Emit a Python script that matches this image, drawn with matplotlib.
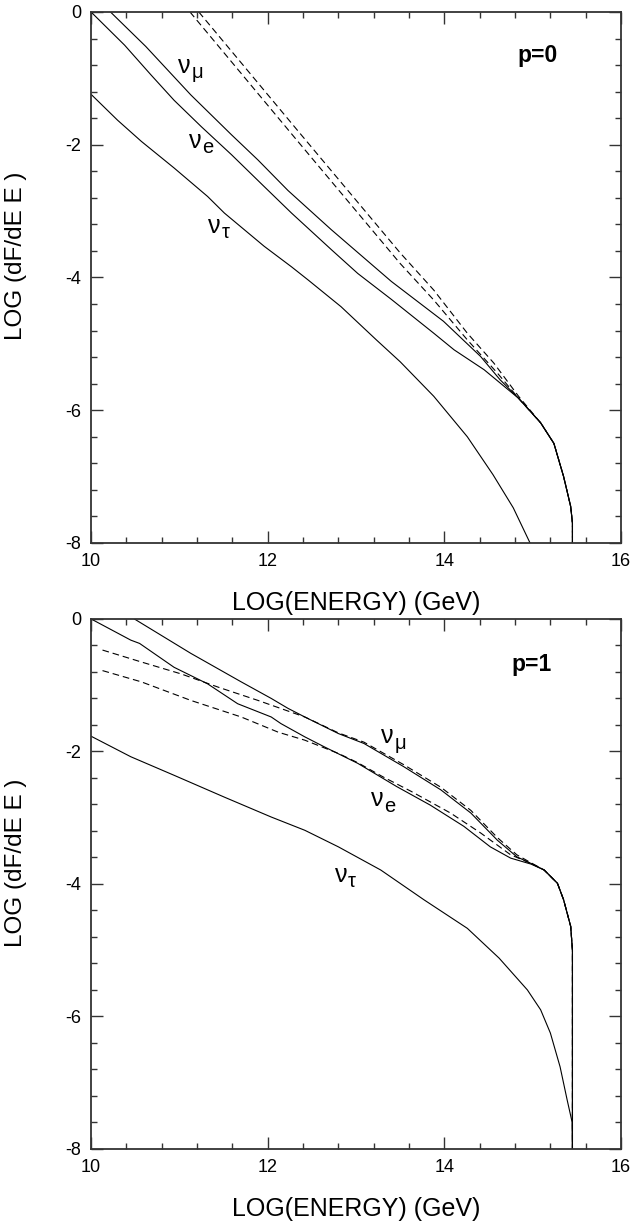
import matplotlib
matplotlib.use("Agg")
import matplotlib.pyplot as plt
from matplotlib.ticker import MultipleLocator

plt.rcParams['font.family'] = ['Liberation Sans', 'DejaVu Sans']
plt.rcParams['axes.unicode_minus'] = False

# ---- p = 0 ----
tail0_x = [15.09, 15.24, 15.35, 15.43, 15.45, 15.45]
tail0_y = [-6.19, -6.50, -7.00, -7.45, -7.70, -8.00]

p0_mu_x = [10.22, 10.62, 11.13, 11.59, 11.89, 12.23, 12.72, 13.40, 13.99, 14.41, 14.63, 14.84]
p0_mu_y = [0.00, -0.52, -1.25, -1.85, -2.23, -2.69, -3.28, -4.06, -4.66, -5.19, -5.54, -5.82]

p0_e_x = [10.00, 10.38, 10.68, 10.94, 11.25, 11.59, 11.96, 12.27, 12.72, 13.02, 13.40,
          13.88, 14.11, 14.45, 14.84]
p0_e_y = [0.00, -0.50, -0.95, -1.33, -1.73, -2.15, -2.63, -3.03, -3.58, -3.94, -4.33,
          -4.84, -5.09, -5.39, -5.82]

p0_tau_x = [10.00, 10.30, 10.57, 10.94, 11.32, 11.51, 11.96, 12.27, 12.46, 12.83, 13.23, 13.50,
            13.88, 14.26, 14.55, 14.78, 14.97]
p0_tau_y = [-1.24, -1.63, -1.95, -2.35, -2.78, -3.03, -3.53, -3.84, -4.04, -4.44, -4.94, -5.27,
            -5.79, -6.40, -6.97, -7.47, -8.00]

p0_d1_x = [11.22, 12.36, 13.50, 13.88, 14.26, 14.56, 14.84]
p0_d1_y = [0.00, -1.82, -3.63, -4.19, -4.84, -5.29, -5.79]
p0_d2_x = [11.12, 12.31, 13.50, 13.88, 14.26, 14.60, 14.84]
p0_d2_y = [0.00, -1.90, -3.79, -4.34, -4.94, -5.44, -5.82]

# ---- p = 1 ----
tail1_x = [15.13, 15.28, 15.35, 15.43, 15.45, 15.45]
tail1_y = [-3.79, -3.99, -4.24, -4.64, -5.00, -8.00]

p1_mu_x = [10.49, 11.13, 11.70, 12.04, 12.23, 12.42, 12.80, 13.09, 13.54, 13.96, 14.30, 14.60,
           14.82, 14.98]
p1_mu_y = [0.00, -0.52, -0.95, -1.20, -1.35, -1.48, -1.73, -1.88, -2.23, -2.58, -2.93, -3.34,
           -3.59, -3.69]

p1_e_x = [10.00, 10.45, 10.55, 10.94, 11.32, 11.66, 12.04, 12.15, 12.42, 12.64, 13.02, 13.46,
          13.84, 14.22, 14.52, 14.75, 14.98]
p1_e_y = [0.00, -0.32, -0.37, -0.73, -0.98, -1.28, -1.48, -1.58, -1.78, -1.93, -2.18, -2.53,
          -2.81, -3.13, -3.44, -3.61, -3.70]

p1_tau_x = [10.00, 10.45, 10.94, 11.51, 12.04, 12.42, 12.80, 13.28, 13.77, 14.26, 14.62,
            14.94, 15.09, 15.20, 15.31, 15.39, 15.447, 15.45]
p1_tau_y = [-1.77, -2.08, -2.36, -2.69, -2.99, -3.19, -3.44, -3.79, -4.24, -4.67, -5.12,
            -5.60, -5.90, -6.25, -6.76, -7.26, -7.60, -8.00]

p1_d1_x = [10.13, 10.57, 11.02, 11.44, 11.89, 12.42, 12.80, 13.09, 13.54, 13.96, 14.30, 14.60,
           14.82, 14.98]
p1_d1_y = [-0.47, -0.65, -0.83, -1.03, -1.23, -1.48, -1.72, -1.86, -2.20, -2.54, -2.89, -3.30,
           -3.56, -3.68]
p1_d2_x = [10.13, 10.57, 11.13, 11.70, 12.12, 12.42, 12.80, 13.02, 13.30, 13.62, 14.07, 14.41,
           14.75, 14.98]
p1_d2_y = [-0.78, -0.95, -1.23, -1.48, -1.71, -1.83, -2.03, -2.17, -2.38, -2.60, -2.93, -3.23,
           -3.56, -3.69]

# flavour labels: (subscript, x, y) at the foot of the nu
p0_labels = [('μ', 11.13, -0.92), ('e', 11.25, -2.05), ('τ', 11.47, -3.33)]
p1_labels = [('μ', 13.43, -1.88), ('e', 13.31, -2.83), ('τ', 12.90, -3.97)]

fig = plt.figure(figsize=(6.33, 12.21), dpi=100)
ax0 = fig.add_axes([0.1438, 0.5553, 0.8373, 0.4349])
ax1 = fig.add_axes([0.1438, 0.0590, 0.8373, 0.4341])

solid = dict(color='black', lw=0.8)
dashed = dict(color='black', lw=0.8, dashes=(6, 3.5))

panels = [
    (ax0, tail0_x, tail0_y,
     [(p0_mu_x, p0_mu_y), (p0_e_x, p0_e_y)], (p0_tau_x, p0_tau_y),
     [(p0_d1_x, p0_d1_y), (p0_d2_x, p0_d2_y)],
     'p=0', (15.06, -0.65), p0_labels),
    (ax1, tail1_x, tail1_y,
     [(p1_mu_x, p1_mu_y), (p1_e_x, p1_e_y)], (p1_tau_x, p1_tau_y),
     [(p1_d1_x, p1_d1_y), (p1_d2_x, p1_d2_y)],
     'p=1', (14.99, -0.69), p1_labels),
]

for ax, tx, ty, flav, tau, dash, ptxt, ppos, labels in panels:
    # nu_mu and nu_e share the steep cutoff tail near 10^15.45 GeV
    for x, y in flav:
        ax.plot(x + tx, y + ty, **solid)
    ax.plot(*tau, **solid)
    for x, y in dash:
        ax.plot(x + tx, y + ty, **dashed)

    ax.set_xlim(10, 16)
    ax.set_ylim(-8, 0)
    ax.xaxis.set_major_locator(MultipleLocator(2))
    ax.xaxis.set_minor_locator(MultipleLocator(0.4))
    ax.yaxis.set_major_locator(MultipleLocator(2))
    ax.yaxis.set_minor_locator(MultipleLocator(0.4))
    ax.tick_params(which='both', direction='in', top=True, right=True,
                   width=1.0, color='#333333', labelsize=13, pad=7)
    ax.tick_params(which='major', length=8.5)
    ax.tick_params(which='minor', length=4.3)
    for sp in ax.spines.values():
        sp.set_linewidth(1.3)
        sp.set_color('#333333')

    ax.set_xlabel('LOG(ENERGY) (GeV)', fontsize=18)
    ax.set_ylabel('LOG (dF/dE E )', fontsize=17.5)
    ax.xaxis.set_label_coords(0.5, -0.09)
    ax.yaxis.set_label_coords(-0.121, 0.54)

    ax.text(*ppos, ptxt, fontsize=16.5, fontweight='bold', ha='center', va='center')
    for sub, x, y in labels:
        ax.text(x, y, 'ν', fontsize=18, ha='right', va='baseline')
        ax.annotate(sub, (x, y), xytext=(0.3, -3.8), textcoords='offset points',
                    fontsize=14.5, ha='left', va='baseline')

fig.savefig('out.png', dpi=100)
